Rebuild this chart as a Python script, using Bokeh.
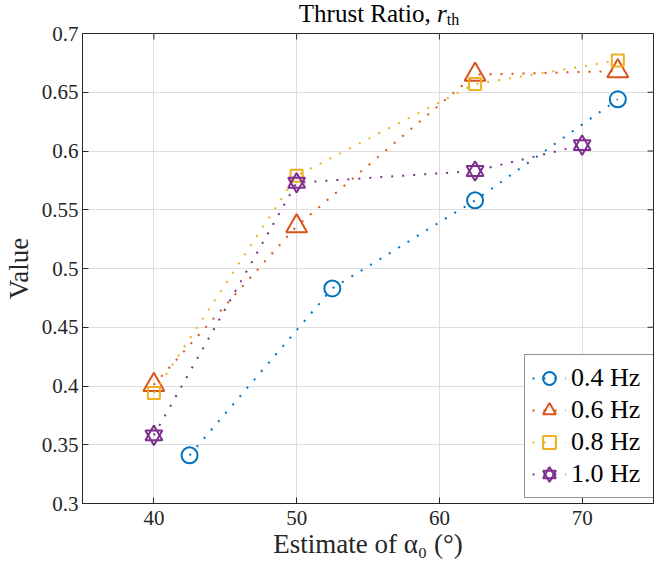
from bokeh.plotting import figure
from bokeh.models import (Range1d, FixedTicker, CustomJSTickFormatter,
                          Legend, LegendItem, Div)
from bokeh.layouts import column
from bokeh.embed import file_html
from bokeh.resources import INLINE

# ---------------- data ----------------
x_04 = [42.5, 52.5, 62.5, 72.5]
y_04 = [0.341, 0.483, 0.558, 0.644]
x_06 = [40, 50, 62.5, 72.5]
y_06 = [0.401, 0.536, 0.665, 0.668]
x_08 = [40, 50, 62.5, 72.5]
y_08 = [0.394, 0.579, 0.657, 0.677]
x_10 = [40, 50, 62.5, 70]
y_10 = [0.358, 0.573, 0.583, 0.605]
series_labels = ["0.4 Hz", "0.6 Hz", "0.8 Hz", "1.0 Hz"]
x_ticks = [40, 50, 60, 70]
y_ticks = [0.3, 0.35, 0.4, 0.45, 0.5, 0.55, 0.6, 0.65, 0.7]
title_main = "Thrust Ratio,"
title_sym = "r"
title_sub = "th"
x_label = "Estimate of \u03b1\u2080 (\u00b0)"
y_label = "Value"

X0, X1 = 35, 75
Y0, Y1 = 0.3, 0.7

FONT = "Liberation Serif"
DARK = "#262626"
C_BLUE, C_ORANGE, C_YELLOW, C_PURPLE = "#0072BD", "#D95319", "#EDB120", "#7E2F8E"

W = 654
DIV_H, OVERLAP = 28, 8
H = 564 - (DIV_H - OVERLAP)
ML, MR, MT, MB = 80, 1, 13, 61
p = figure(width=W, height=H, output_backend="svg", toolbar_location=None,
           x_range=Range1d(X0, X1), y_range=Range1d(Y0, Y1),
           min_border_left=ML, min_border_right=MR, min_border_top=MT,
           min_border_bottom=MB)
p.background_fill_color = "white"
p.border_fill_color = None
p.outline_line_color = DARK
p.outline_line_width = 1

# grid
for g in (p.xgrid[0], p.ygrid[0]):
    g.grid_line_color = "#dedede"
    g.grid_line_width = 1
p.xgrid[0].ticker = FixedTicker(ticks=x_ticks)
p.ygrid[0].ticker = FixedTicker(ticks=y_ticks)

def style_axis(ax):
    ax.axis_line_color = DARK
    ax.major_tick_line_color = DARK
    ax.major_tick_in = 6
    ax.major_tick_out = 0
    ax.minor_tick_line_color = None
    ax.major_label_text_font = FONT
    ax.major_label_text_font_size = "21px"
    ax.major_label_text_color = DARK
    ax.axis_label_text_font = FONT
    ax.axis_label_text_font_size = "27px"
    ax.axis_label_text_font_style = "normal"
    ax.axis_label_text_color = DARK

xa = p.xaxis[0]
ya = p.yaxis[0]
style_axis(xa)
style_axis(ya)
xa.ticker = FixedTicker(ticks=x_ticks)
ya.ticker = FixedTicker(ticks=y_ticks)
ya.formatter = CustomJSTickFormatter(code="return String(Math.round(tick*100)/100)")
xa.axis_label = x_label
ya.axis_label = y_label
xa.major_label_standoff = 7
xa.axis_label_standoff = 1
ya.major_label_standoff = 4
ya.axis_label_standoff = 5

# mirrored inward tick marks on the top and right edges (from the tick lists)
frame_w = W - ML - MR
frame_h = 470
tick_px = 6
dy = (Y1 - Y0) / frame_h * tick_px
dx = (X1 - X0) / frame_w * tick_px
p.segment(x0=x_ticks, y0=[Y1] * len(x_ticks), x1=x_ticks, y1=[Y1 - dy] * len(x_ticks),
          line_color=DARK, line_width=1)
p.segment(x0=[X1] * len(y_ticks), y0=y_ticks, x1=[X1 - dx] * len(y_ticks), y1=y_ticks,
          line_color=DARK, line_width=1)

DASH = "2 9"
items = []

# 0.4 Hz
l1 = p.line(x_04, y_04, line_color=C_BLUE, line_width=2, line_dash=DASH)
m1 = p.scatter(x_04, y_04, marker="circle", size=16, fill_color=None,
               line_color=C_BLUE, line_width=2)
items.append(LegendItem(label=series_labels[0], renderers=[l1, m1]))

# 0.6 Hz
l2 = p.line(x_06, y_06, line_color=C_ORANGE, line_width=2, line_dash=DASH)
m2 = p.scatter(x_06, y_06, marker="triangle", size=21, fill_color=None,
               line_color=C_ORANGE, line_width=2)
items.append(LegendItem(label=series_labels[1], renderers=[l2, m2]))

# 0.8 Hz
l3 = p.line(x_08, y_08, line_color=C_YELLOW, line_width=2, line_dash=DASH)
m3 = p.scatter(x_08, y_08, marker="square", size=12, fill_color=None,
               line_color=C_YELLOW, line_width=2)
items.append(LegendItem(label=series_labels[2], renderers=[l3, m3]))

# 1.0 Hz (hexagram = two triangles)
l4 = p.line(x_10, y_10, line_color=C_PURPLE, line_width=2, line_dash=DASH)
m4a = p.scatter(x_10, y_10, marker="triangle", size=17, fill_color=None,
                line_color=C_PURPLE, line_width=2)
m4b = p.scatter(x_10, y_10, marker="inverted_triangle", size=17, fill_color=None,
                line_color=C_PURPLE, line_width=2)
items.append(LegendItem(label=series_labels[3], renderers=[l4, m4a, m4b]))

legend = Legend(items=items, location=(442, 5))
legend.label_text_font = FONT
legend.label_text_font_size = "26px"
legend.label_text_color = "black"
legend.glyph_width = 34
legend.glyph_height = 32
legend.spacing = 0
legend.padding = 7
legend.label_standoff = 5
legend.label_width = 76
legend.label_height = 32
legend.border_line_color = DARK
legend.border_line_width = 1
legend.background_fill_color = "white"
legend.background_fill_alpha = 1
p.add_layout(legend)

# title as real HTML text (italic symbol with subscript)
title_html = (
    f'<div style="position:relative; left:52px; width:{W}px; text-align:center; '
    'font-family:\'Liberation Serif\'; font-size:25px; line-height:28px; '
    'color:black; white-space:nowrap;">'
    f'{title_main} <i>{title_sym}</i>'
    f'<span style="font-size:16px; position:relative; top:3px;">{title_sub}</span>'
    '</div>'
)
title_div = Div(text=title_html, width=W, height=DIV_H, margin=(0, 0, -OVERLAP, 0))

layout = column(title_div, p, spacing=0)
open("out.html", "w").write(file_html(layout, INLINE))
